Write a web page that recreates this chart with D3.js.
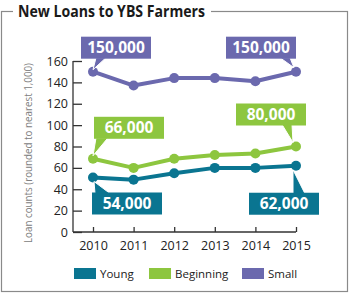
<!DOCTYPE html>
<html>
<head>
<meta charset="utf-8">
<script src="https://cdn.jsdelivr.net/npm/d3@7"></script>
<style>
  body { margin: 0; background: #fff; }
  svg { display: block; font-family: 'Open Sans', sans-serif; }
</style>
</head>
<body>
<div id="chart"></div>
<script>
// Chart data
const years = [2010, 2011, 2012, 2013, 2014, 2015];
const young = [51, 49, 55, 60, 60, 62];
const beginning = [68.5, 60, 68.5, 72, 73.5, 80];
const small = [150, 137, 144, 144, 141, 150];
const yTicks = [0, 20, 40, 60, 80, 100, 120, 140, 160];
const seriesNames = ['Young', 'Beginning', 'Small'];
const seriesColors = ['#0a7591', '#8dc63f', '#6b69ae'];
const calloutTexts = [
    { series: 'Small', year: 2010, text: '150,000' },
    { series: 'Small', year: 2015, text: '150,000' },
    { series: 'Beginning', year: 2010, text: '66,000' },
    { series: 'Beginning', year: 2015, text: '80,000' },
    { series: 'Young', year: 2010, text: '54,000' },
    { series: 'Young', year: 2015, text: '62,000' }
];

// Callout placement relative to the point (box left/top, pointer base, pointer tip)
const calloutLayout = [
    { bx: -12, by: -35, p1: 3, p2: 13, tx: 0, ty: -2 },
    { bx: -70, by: -35, p1: -16, p2: -6, tx: -2, ty: -4 },
    { bx: 1, by: -42, p1: 3, p2: 15, tx: 0, ty: -3 },
    { bx: -60, by: -43, p1: -14, p2: -4, tx: -3, ty: -4 },
    { bx: -1, by: 15, p1: 2, p2: 17, tx: 1, ty: 4 },
    { bx: -47, by: 27, p1: -3, p2: 9, tx: -3, ty: 4 }
];

const seriesData = { Young: young, Beginning: beginning, Small: small };

const width = 350, height = 296;
const svg = d3.select('#chart').append('svg')
    .attr('width', width)
    .attr('height', height);

// Frame
svg.append('rect')
    .attr('x', 1.5).attr('y', 11.5)
    .attr('width', 346).attr('height', 280)
    .attr('fill', 'none')
    .attr('stroke', '#8a8a8a')
    .attr('stroke-width', 1.2);

svg.append('rect')
    .attr('x', 13).attr('y', 0)
    .attr('width', 198).attr('height', 22)
    .attr('fill', '#fff');

svg.append('text')
    .attr('x', 18).attr('y', 17)
    .attr('font-size', '16px')
    .attr('font-weight', 700)
    .attr('fill', '#1a1a1a')
    .attr('textLength', 187)
    .attr('lengthAdjust', 'spacingAndGlyphs')
    .text('New Loans to YBS Farmers');

// Scales
const x = d3.scaleLinear().domain([2010, 2015]).range([93, 296]);
const y = d3.scaleLinear().domain([0, 160]).range([232, 61]);

// Y axis
const yAxis = svg.append('g')
    .attr('transform', 'translate(73,0)')
    .call(d3.axisRight(y).tickValues(yTicks).tickSize(9).tickFormat(d3.format('d')));
yAxis.select('.domain').attr('d', `M0,${y(160)}V${y(0)}`);
yAxis.selectAll('.tick text')
    .attr('x', -5)
    .attr('text-anchor', 'end')
    .attr('font-size', '12.5px')
    .attr('font-family', 'Open Sans, sans-serif')
    .attr('fill', '#222');

// X axis
const xAxis = svg.append('g')
    .attr('transform', `translate(0,${y(0)})`)
    .call(d3.axisTop(x).tickValues(years).tickSize(5).tickFormat(d3.format('d')));
xAxis.select('.domain').attr('d', `M73,0H${x(2015)}`);
xAxis.selectAll('.tick text')
    .attr('y', 18)
    .attr('dy', 0)
    .attr('font-size', '12.5px')
    .attr('font-family', 'Open Sans, sans-serif')
    .attr('fill', '#222');

svg.selectAll('.domain, .tick line')
    .attr('stroke', '#333')
    .attr('stroke-width', 1.3);

// Y axis title
svg.append('text')
    .attr('transform', 'translate(32,153) rotate(-90)')
    .attr('text-anchor', 'middle')
    .attr('font-size', '10.5px')
    .attr('fill', '#808080')
    .attr('textLength', 180)
    .attr('lengthAdjust', 'spacingAndGlyphs')
    .text('Loan counts (rounded to nearest 1,000)');

// Lines and points
const line = d3.line()
    .x((d, i) => x(years[i]))
    .y(d => y(d));

seriesNames.forEach((name, si) => {
    const vals = seriesData[name];
    svg.append('path')
        .attr('d', line(vals))
        .attr('fill', 'none')
        .attr('stroke', seriesColors[si])
        .attr('stroke-width', 4)
        .attr('stroke-linejoin', 'round');
    svg.selectAll(null)
        .data(vals)
        .enter()
        .append('circle')
        .attr('cx', (d, i) => x(years[i]))
        .attr('cy', d => y(d))
        .attr('r', 5)
        .attr('fill', seriesColors[si]);
});

// Callouts
calloutTexts.forEach((c, i) => {
    const L = calloutLayout[i];
    const si = seriesNames.indexOf(c.series);
    const color = seriesColors[si];
    const px = x(c.year);
    const py = y(seriesData[c.series][years.indexOf(c.year)]);
    const bw = 70, bh = 22;
    const bx = px + L.bx, by = py + L.by;
    const baseY = L.by < 0 ? by + bh - 1 : by + 1;
    const g = svg.append('g');
    g.append('path')
        .attr('d', `M${px + L.p1},${baseY}L${px + L.p2},${baseY}L${px + L.tx},${py + L.ty}Z`)
        .attr('fill', color)
        .attr('stroke', '#fff')
        .attr('stroke-width', 1);
    g.append('rect')
        .attr('x', bx).attr('y', by)
        .attr('width', bw).attr('height', bh)
        .attr('fill', color);
    g.append('text')
        .attr('x', bx + bw / 2)
        .attr('y', by + bh / 2 + 5.5)
        .attr('text-anchor', 'middle')
        .attr('font-size', '15.5px')
        .attr('font-weight', 700)
        .attr('fill', '#fff')
        .text(c.text);
});

// Legend
const legendX = [74, 149, 242];
seriesNames.forEach((name, i) => {
    svg.append('rect')
        .attr('x', legendX[i]).attr('y', 268)
        .attr('width', 22).attr('height', 11)
        .attr('fill', seriesColors[i]);
    svg.append('text')
        .attr('x', legendX[i] + 26).attr('y', 278)
        .attr('font-size', '11.5px')
        .attr('fill', '#222')
        .text(name);
});
</script>
</body>
</html>
